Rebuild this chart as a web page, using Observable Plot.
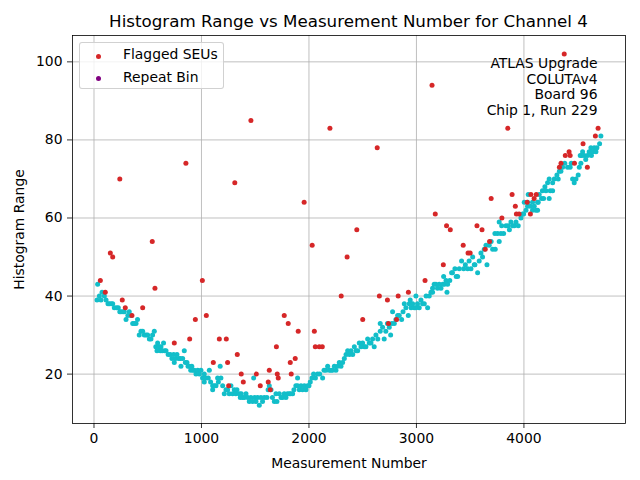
<!DOCTYPE html>
<html>
<head>
<meta charset="utf-8">
<script src="https://cdn.jsdelivr.net/npm/d3@7"></script>
<script src="https://cdn.jsdelivr.net/npm/@observablehq/plot@0.6"></script>
<style>
  html, body { margin: 0; padding: 0; background: white; }
  #wrap { position: relative; width: 640px; height: 480px; font-family: "DejaVu Sans", sans-serif; color: black; }
  #title { position: absolute; left: 72px; width: 553px; top: 13px; text-align: center; font-size: 16.7px; line-height: 16.7px; white-space: nowrap; }
  #chart { position: absolute; left: 0; top: 35px; }
  #legend { position: absolute; left: 79px; top: 42px; width: 143px; height: 45px; border: 1px solid rgba(204,204,204,0.9); border-radius: 3px; background: rgba(255,255,255,0.8); font-size: 13.9px; line-height: 13.9px; }
  .ld { position: absolute; width: 5px; height: 5px; border-radius: 50%; left: 15.5px; }
  .lt { position: absolute; left: 43px; white-space: nowrap; }
</style>
</head>
<body>
<div id="wrap">
  <div id="title">Histogram Range vs Measurement Number for Channel 4</div>
  <div id="chart"></div>
  <div id="legend">
    <div class="ld" id="ld1" style="top:10.5px"></div><div class="lt" style="top:5.2px">Flagged SEUs</div>
    <div class="ld" id="ld2" style="top:32.5px"></div><div class="lt" style="top:27.5px">Repeat Bin</div>
  </div>
</div>
<script>
// Series: normal measurements [measurement number, histogram range]
const normalPoints = [
[28,39],[34,43],[50,40],[65,39],[75,41],[96,40],[112,39],[130,38],[143,38],[160,38],[174,38],[189,37],[210,37],[226,37],[240,36],[251,36],[270,36],[282,36],[298,34],[315,35],[328,36],[344,35],[360,33],[375,33],[391,33],[405,34],[421,30],[437,31],[453,31],[468,30],[484,30],[499,30],[515,29],[530,29],[545,30],[561,31],[575,27],[586,26],[592,28],[605,27],[617,26],[623,27],[635,26],[647,28],[658,26],[670,26],[690,25],[709,25],[725,24],[741,25],[747,23],[760,24],[772,25],[790,24],[803,24],[809,22],[825,24],[840,26],[850,23],[865,23],[875,22],[887,22],[900,21],[910,22],[920,21],[933,21],[949,20],[965,21],[980,20],[995,21],[1010,19],
[1026,20],[1026,18],[1040,19],[1063,19],[1073,21],[1085,18],[1104,17],[1104,16],[1120,17],[1135,17],[1150,19],[1157,18],[1174,22],[1181,19],[1197,17],[1212,15],[1228,16],[1243,16],[1258,15],[1274,17],[1290,15],[1305,16],[1320,15],[1330,16],[1352,15],[1361,14],[1370,15],[1383,14],[1398,14],[1414,15],[1430,14],[1445,13],[1460,14],[1476,13],[1486,19],[1495,14],[1507,13],[1522,14],[1538,12],[1553,14],[1568,13],[1584,14],[1609,14],[1620,16],[1631,17],[1647,16],[1660,14],[1678,13],[1693,15],[1702,13],[1724,15],[1740,14],[1755,14],[1770,15],[1786,14],[1800,15],[1817,15],[1830,15],[1848,15],[1860,16],[1878,17],[1894,19],[1894,17],[1910,16],[1926,17],[1940,16],[1957,17],[1972,16],[1987,17],[2000,17],
[2012,18],[2028,19],[2043,20],[2060,19],[2080,20],[2100,20],[2127,19],[2140,21],[2158,21],[2174,22],[2189,21],[2205,21],[2220,21],[2236,22],[2251,21],[2267,22],[2282,23],[2298,22],[2313,23],[2329,24],[2345,25],[2360,26],[2376,25],[2391,26],[2407,25],[2422,27],[2438,26],[2453,26],[2468,28],[2484,27],[2499,28],[2515,27],[2530,27],[2546,29],[2561,28],[2577,28],[2592,29],[2607,27],[2623,30],[2640,29],[2663,31],[2663,33],[2685,32],[2700,29],[2715,31],[2730,33],[2747,32],[2760,30],[2772,33],[2778,36],[2794,33],[2809,34],[2825,35],[2840,35],[2862,34],[2875,36],[2887,38],[2902,37],[2924,35],[2933,38],[2942,39],[2950,37],[2964,38],[2980,37],[2995,37],[2995,40],
[3010,38],[3026,37],[3042,39],[3057,38],[3073,38],[3090,40],[3104,37],[3119,40],[3135,41],[3150,42],[3150,41],[3165,43],[3181,43],[3196,42],[3212,43],[3228,42],[3245,43],[3253,45],[3259,43],[3275,44],[3284,41],[3290,43],[3310,44],[3327,46],[3335,46],[3358,47],[3370,45],[3383,45],[3398,47],[3420,49],[3439,47],[3455,48],[3476,47],[3490,49],[3507,47],[3523,50],[3538,48],[3544,48],[3569,46],[3584,49],[3600,51],[3615,50],[3631,52],[3647,53],[3656,48],[3677,53],[3695,54],[3709,52],[3730,56],[3733,52],[3755,56],[3770,54],[3770,59],[3786,56],[3793,58],[3811,56],[3833,58],[3854,58],[3865,57],[3879,59],[3895,58],[3910,58],[3926,59],[3947,58],[3972,60],[3988,61],[3997,61],[4003,64],
[4019,62],[4034,64],[4034,63],[4040,66],[4060,63],[4080,64],[4080,62],[4096,63],[4111,62],[4127,62],[4127,64],[4133,64],[4142,66],[4164,65],[4172,67],[4183,65],[4195,68],[4205,67],[4220,69],[4235,70],[4235,65],[4245,67],[4267,67],[4267,69],[4282,70],[4307,71],[4319,70],[4330,72],[4344,72],[4360,73],[4380,74],[4406,73],[4430,73],[4440,74],[4453,70],[4468,69],[4484,70],[4505,71],[4515,73],[4524,76],[4530,74],[4536,76],[4546,77],[4560,76],[4575,75],[4591,76],[4607,77],[4623,78],[4628,76],[4640,77],[4654,78],[4670,77],[4679,78],[4704,79],[4716,81]
];
// Series: flagged SEUs
const flaggedPoints = [
[59,44],[105,41],[152,51],[174,50],[240,70],[263,39],[291,37],[353,35],[453,37],[542,54],[567,42],[747,28],[855,74],[890,29],[943,34],[1008,44],[1045,35],[1110,23],[1166,29],[1231,29],[1243,23],[1253,17],[1310,69],[1333,25],[1370,20],[1389,18],[1460,85],[1510,20],[1547,17],[1621,18],[1631,21],[1640,16],[1697,27],[1705,20],[1714,19],[1770,35],[1807,33],[1826,23],[1835,20],[1872,24],[1900,31],[1955,64],[2030,53],[2050,31],[2059,27],[2096,27],[2124,27],[2195,83],[2300,40],[2355,50],[2445,57],[2500,34],[2635,78],[2655,40],[2730,39],[2740,33],[2815,34],[2830,40],[2925,41],[3080,44],[3145,94],[3175,61],[3250,48],[3280,58],[3315,57],[3435,53],[3480,51],[3500,51],[3563,58],[3610,57],[3640,52],[3680,54],[3695,65],[3795,60],[3850,83],[3890,66],[3920,63],[3930,61],[3955,61],[4030,64],[4060,61],[4065,66],[4095,65],[4115,66],[4330,73],[4345,74],[4375,102],[4385,76],[4420,77],[4430,76],[4470,74],[4550,79],[4590,73],[4665,81],[4690,83]
];
// Series: repeat bins (none visible)
const repeatPoints = [];
const xTicks = [0, 1000, 2000, 3000, 4000];
const yTicks = [20, 40, 60, 80, 100];
const annotationLines = ["ATLAS Upgrade", "COLUTAv4", "Board 96", "Chip 1, Run 229"];

const colNormal = "#12bec9", colFlag = "#d62728", colRepeat = "#800080";
document.getElementById("ld1").style.background = colFlag;
document.getElementById("ld2").style.background = colRepeat;

const toObj = a => a.map(([x, y]) => ({x, y}));

const chart = Plot.plot({
  width: 640, height: 445,
  marginLeft: 72, marginRight: 15, marginTop: 0, marginBottom: 57,
  style: {fontFamily: "DejaVu Sans, sans-serif", fontSize: "13.9px", color: "black", background: "white", overflow: "visible"},
  x: {domain: [-200, 4945]},
  y: {domain: [7.35, 106.75]},
  marks: [
    Plot.gridX(xTicks, {stroke: "#b0b0b0", strokeOpacity: 1, strokeWidth: 0.8}),
    Plot.gridY(yTicks, {stroke: "#b0b0b0", strokeOpacity: 1, strokeWidth: 0.8}),
    Plot.dot(toObj(normalPoints), {x: "x", y: "y", r: 2.5, fill: colNormal, stroke: "none"}),
    Plot.dot(toObj(flaggedPoints), {x: "x", y: "y", r: 2.5, fill: colFlag, stroke: "none"}),
    Plot.dot(toObj(repeatPoints), {x: "x", y: "y", r: 2.5, fill: colRepeat, stroke: "none"}),
    Plot.frame({stroke: "black", strokeWidth: 0.8}),
    Plot.axisX(xTicks, {tickSize: 5, tickPadding: 5, strokeWidth: 0.8, fontSize: 13.9, tickFormat: d => String(d), label: "Measurement Number", labelAnchor: "center", labelOffset: 44, labelArrow: "none"}),
    Plot.axisY(yTicks, {tickSize: 5, tickPadding: 5, strokeWidth: 0.8, fontSize: 13.9, tickFormat: d => String(d), label: "Histogram Range", labelAnchor: "center", labelOffset: 58, labelArrow: "none"}),
    Plot.text([annotationLines.join("\n")], {text: d => d, frameAnchor: "top-right", dx: -28, dy: 21, lineHeight: 1.14, fontSize: 13.9, fill: "black"})
  ]
});
document.getElementById("chart").appendChild(chart);
</script>
</body>
</html>
